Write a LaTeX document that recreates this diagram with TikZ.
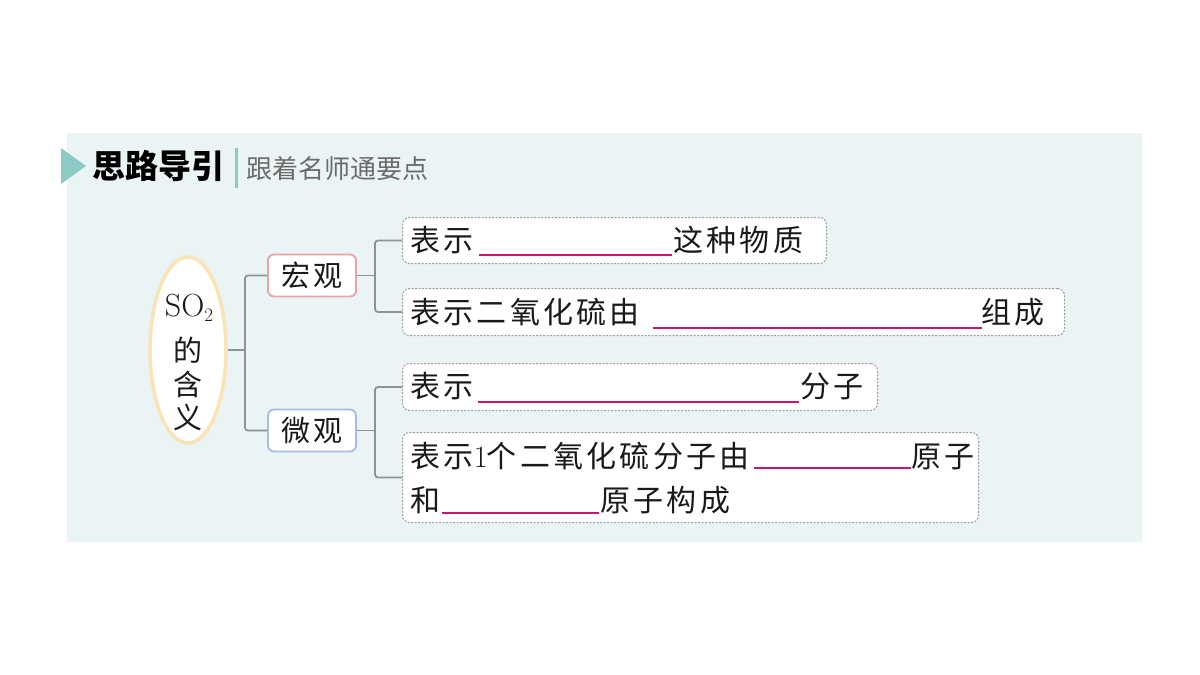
\documentclass[tikz,border=0pt]{standalone}
\usepackage{fontspec}
\usetikzlibrary{shapes.geometric}
\newfontfamily\cjk[LetterSpace=11]{Noto Sans CJK SC}
\newfontfamily\cjkplain{Noto Sans CJK SC}
\definecolor{bgc}{HTML}{EAF4F4}
\definecolor{teal1}{HTML}{8CCAC6}
\definecolor{connc}{HTML}{8A9397}
\definecolor{dashc}{HTML}{9A9EA0}
\definecolor{blankc}{HTML}{C8176E}
\definecolor{txtc}{HTML}{1A1A1A}
\definecolor{ellc}{HTML}{FAE3B4}
\definecolor{redc}{HTML}{E8A3A5}
\definecolor{bluec}{HTML}{A6BCE2}
\definecolor{subc}{HTML}{6B6B6B}
\tikzset{
  conn/.style={draw=connc, line width=1.8pt, rounded corners=3pt},
  catbox/.style={draw, rounded corners=6pt, line width=1.8pt, fill=white,
    minimum width=88pt, minimum height=42pt, inner sep=0pt, text=txtc,
    font=\cjk\fontsize{29}{34}\selectfont},
  dbox/.style={draw=dashc, dash pattern=on 2pt off 1.5pt, line width=1pt,
    rounded corners=7pt, fill=white, anchor=north west, inner sep=0pt},
  txt/.style={anchor=base west, inner sep=0pt, text=txtc,
    font=\cjk\fontsize{30}{36}\selectfont},
  etxt/.style={anchor=base, inner sep=0pt, text=txtc,
    font=\cjkplain\fontsize{29}{34}\selectfont},
  blank/.style={draw=blankc, line width=2pt},
}
\begin{document}
\begin{tikzpicture}[x=1pt,y=-1pt]
\useasboundingbox (0,0) rectangle (1200,675);
\fill[white] (0,0) rectangle (1200,675);
% panel
\fill[bgc] (67,133) rectangle (1142,542);
% header
\fill[teal1] (61,148) -- (86,166) -- (61,184) -- cycle;
\node[anchor=base west, inner sep=0pt, text=black, font=\cjkplain\bfseries\fontsize{33}{38}\selectfont] (title) at (92,178) {思路导引};
\draw[teal1, line width=3pt] (236,148) -- (236,188);
\node[anchor=base west, inner sep=0pt, text=subc, font=\cjkplain\fontsize{26}{30}\selectfont] (sub) at (246,178) {跟着名师通要点};
% ellipse
\node[ellipse, draw=ellc, line width=3.5pt, fill=white, minimum width=76pt, minimum height=186pt, inner sep=0pt] (so2) at (188,350) {};
\node[anchor=base, inner sep=0pt, text=txtc, font=\fontsize{32}{36}\selectfont] (so2t) at (189,316) {SO\raisebox{-5pt}{\fontsize{19}{22}\selectfont 2}};
\node[etxt] (de) at (188,361) {的};
\node[etxt] (han) at (188,395) {含};
\node[etxt] (yi) at (188,428) {义};
% categories
\node[catbox, draw=redc] (hong) at (312,275.5) {宏观};
\node[catbox, draw=bluec] (wei) at (312,430.5) {微观};
\coordinate (j0) at (245,350);
\draw[conn] (hong.west) -| (j0) |- (wei.west);
\draw[conn] (so2.east) -- (j0);
% boxes
\node[dbox, minimum width=424pt, minimum height=46pt] (b1) at (402,217) {};
\node[dbox, minimum width=662pt, minimum height=47pt] (b2) at (402,288) {};
\node[dbox, minimum width=475pt, minimum height=47pt] (b3) at (402,363) {};
\node[dbox, minimum width=576pt, minimum height=90pt] (b4) at (402,432) {};
\coordinate (j1) at (375,275.5);
\coordinate (j2) at (375,430.5);
\draw[conn] (b1.west) -| (j1) |- (b2.west);
\draw[conn] (hong.east) -- (j1);
\draw[conn] (b3.west) -| (j2) |- (b4.west);
\draw[conn] (wei.east) -- (j2);
% box 1
\node[txt] (t1a) at (410,251) {表示};
\draw[blank] (479,255) -- (672,255);
\node[txt] (t1b) at (673,251) {这种物质};
% box 2
\node[txt] (t2a) at (410,323) {表示二氧化硫由};
\draw[blank] (653,328) -- (982,328);
\node[txt] (t2b) at (981,323) {组成};
% box 3
\node[txt] (t3a) at (410,397) {表示};
\draw[blank] (478,402) -- (799,402);
\node[txt] (t3b) at (800,397) {分子};
% box 4
\node[txt] (t4a) at (410,467) {表示{\rmfamily\fontsize{31}{36}\selectfont 1}\kern-1pt 个二氧化硫分子由};
\draw[blank] (754,468) -- (911,468);
\node[txt] (t4b) at (911,467) {原子};
\node[txt] (t4c) at (410,511) {和};
\draw[blank] (442,513) -- (599,513);
\node[txt] (t4d) at (600,511) {原子构成};
\end{tikzpicture}
\end{document}
